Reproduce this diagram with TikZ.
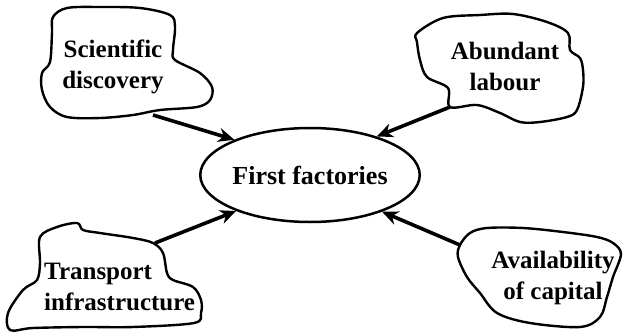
\documentclass[tikz,border=0pt]{standalone}
\usepackage{fontspec}
\setmainfont{Liberation Serif}
\usetikzlibrary{shapes.geometric,arrows.meta}

\tikzset{
  blob/.style={line width=2.4pt, line join=round},
  label/.style={inner sep=0pt, font=\fontsize{25}{31}\selectfont\bfseries},
  hub/.style={draw, ellipse, line width=2.5pt, minimum width=180pt, minimum height=94pt, inner sep=0pt,
              font=\fontsize{26}{31}\selectfont\bfseries},
  feed/.style={line width=3.6pt, -{Stealth[length=16pt,width=14pt,inset=5pt]}}
}

\begin{document}
\begin{tikzpicture}[x=1pt,y=-1pt]
\useasboundingbox (0,0) rectangle (625,335);

% central node
\node[hub] (fact) at (310,175) {First factories};

% cloud outlines
\draw[blob] plot[smooth cycle, tension=0.55] coordinates {
  (53,17) (67,8) (100,7) (140,8) (170,15) (175,27) (173,50) (175,60)
  (200,73) (212,87) (210,100) (197,107) (160,110) (133,115) (100,118)
  (67,117) (50,107) (42,90) (42,73) (50,62) (52,33)};
\draw[blob] plot[smooth cycle, tension=0.55] coordinates {
  (417,33) (443,18) (480,15) (513,14) (547,22) (568,33) (570,50) (580,58)
  (583,70) (583,87) (577,110) (567,117) (540,122) (520,122) (500,113)
  (477,105) (450,107) (448,88) (427,77) (420,60) (417,42)};
\draw[blob] plot[smooth cycle, tension=0.55] coordinates {
  (40,237) (57,227) (77,223) (83,230) (100,233) (133,238) (153,243)
  (163,253) (167,273) (173,280) (193,287) (201,300) (201,313) (194,323)
  (133,327) (83,327) (33,328) (10,330) (8,313) (23,290) (37,280) (40,263)};
\draw[blob] plot[smooth cycle, tension=0.55] coordinates {
  (460,245) (470,233) (487,228) (523,228) (563,232) (597,237) (613,243)
  (621,254) (613,277) (607,297) (600,317) (580,327) (530,323) (497,313)
  (480,293) (467,277) (458,257)};

% cloud texts
\node[label, align=center] (sci) at (113,67) {Scientific\\discovery};
\node[label, align=center] (lab) at (505,66) {Abundant\\labour};
\node[label, align=left, anchor=west] (tra) at (44,287) {Transport\\infrastructure};
\node[label, align=center] (cap) at (553,278) {Availability\\of capital};

% connector tails on the cloud outlines
\coordinate (sciT) at (153,115);
\coordinate (labT) at (450,107);
\coordinate (traT) at (155,243);
\coordinate (capT) at (460,245);

\draw[feed] (sciT) -- (fact.155);
\draw[feed] (labT) -- (fact.30);
\draw[feed] (traT) -- (fact.206);
\draw[feed] (capT) -- (fact.333);
\end{tikzpicture}
\end{document}
